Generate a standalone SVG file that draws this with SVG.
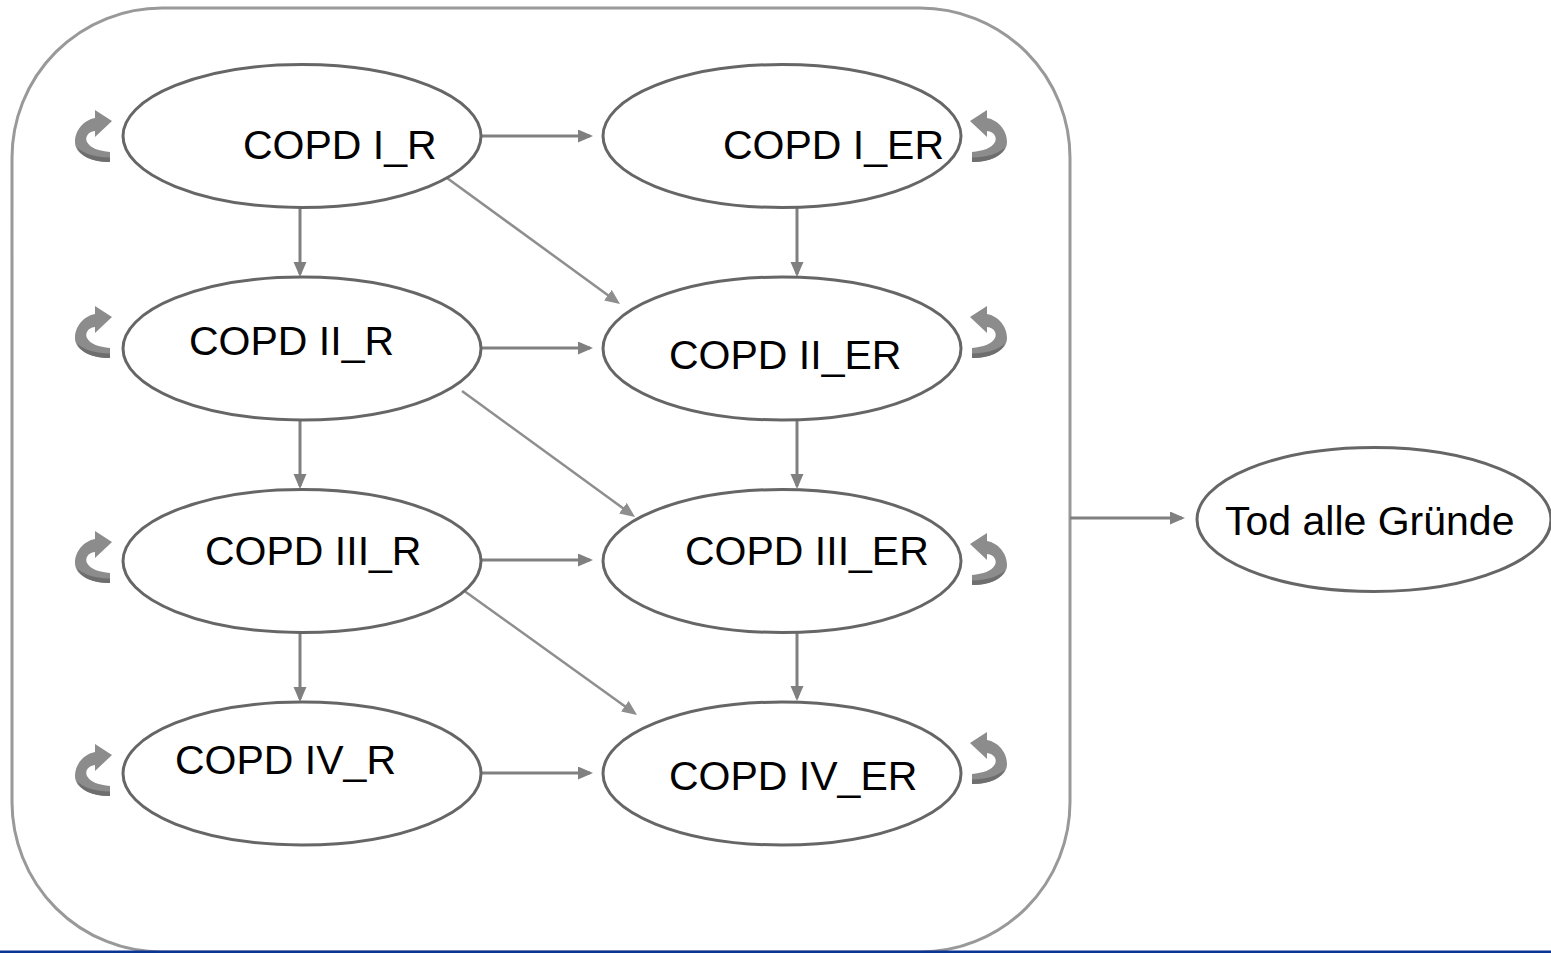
<svg xmlns="http://www.w3.org/2000/svg" width="1551" height="953" viewBox="0 0 1551 953">
<style>
.node ellipse{fill:#fff;stroke:#666;stroke-width:3}
.node text{font-family:"Liberation Sans",Arial,sans-serif;font-size:41px;fill:#000}
.conn line{stroke:#808080;stroke-width:3}
.conn line.d{stroke:#8e8e8e;stroke-width:2.5}
</style>
<defs>
<marker id="ah" markerUnits="userSpaceOnUse" markerWidth="16" markerHeight="14" refX="12" refY="6.5" orient="auto">
<path d="M0,0 L15,6.5 L0,13 Z" fill="#808080"/>
</marker>
<marker id="ahd" markerUnits="userSpaceOnUse" markerWidth="16" markerHeight="14" refX="12" refY="6.5" orient="auto">
<path d="M0,0 L15,6.5 L0,13 Z" fill="#8e8e8e"/>
</marker>
<g id="loopShape">
<path fill="#8c8c8c" d="M20,0 L37,11 L20,27 L20,21 C12,22 10,28 12,32 C15,38 24,41 35,42 L35,52 C15,52 0,44 0,32 C0,20 9,10 20,8 Z"/>
<path fill="#6e6e6e" d="M35,47.5 C18,47.5 6,42 2,37 C5,46 17,52 35,52 Z"/>
</g>
</defs>
<rect id="container" x="12" y="8" width="1058" height="944" rx="150" ry="150" fill="none" stroke="#999" stroke-width="3"/>
<g id="connectors" class="conn">
<line x1="480" y1="136" x2="590" y2="136" marker-end="url(#ah)"/>
<line x1="480" y1="348" x2="590" y2="348" marker-end="url(#ah)"/>
<line x1="480" y1="560" x2="590" y2="560" marker-end="url(#ah)"/>
<line x1="480" y1="773" x2="590" y2="773" marker-end="url(#ah)"/>
<line x1="300" y1="207" x2="300" y2="274" marker-end="url(#ah)"/>
<line x1="300" y1="420" x2="300" y2="486" marker-end="url(#ah)"/>
<line x1="300" y1="633" x2="300" y2="699" marker-end="url(#ah)"/>
<line x1="797" y1="207" x2="797" y2="274" marker-end="url(#ah)"/>
<line x1="797" y1="420" x2="797" y2="486" marker-end="url(#ah)"/>
<line x1="797" y1="633" x2="797" y2="698" marker-end="url(#ah)"/>
<line class="d" x1="447" y1="178" x2="617.6" y2="302.2" marker-end="url(#ahd)"/>
<line class="d" x1="462" y1="391" x2="632.6" y2="515.2" marker-end="url(#ahd)"/>
<line class="d" x1="463" y1="590" x2="634.6" y2="713.2" marker-end="url(#ahd)"/>
<line x1="1070" y1="518" x2="1182" y2="518" marker-end="url(#ah)"/>
</g>
<g id="loops">
<use href="#loopShape" transform="translate(75,110)"/>
<use href="#loopShape" transform="translate(75,306)"/>
<use href="#loopShape" transform="translate(75,531)"/>
<use href="#loopShape" transform="translate(75,744)"/>
<use href="#loopShape" transform="translate(1007,110) scale(-1,1)"/>
<use href="#loopShape" transform="translate(1007,306) scale(-1,1)"/>
<use href="#loopShape" transform="translate(1007,533) scale(-1,1)"/>
<use href="#loopShape" transform="translate(1007,732) scale(-1,1)"/>
</g>
<g id="n_I_R" class="node"><ellipse cx="302" cy="136" rx="179" ry="71.5"/><text x="243" y="159">COPD I_R</text></g>
<g id="n_II_R" class="node"><ellipse cx="302" cy="348.5" rx="179" ry="71.5"/><text x="189" y="355">COPD II_R</text></g>
<g id="n_III_R" class="node"><ellipse cx="302" cy="561" rx="179" ry="71.5"/><text x="205" y="565">COPD III_R</text></g>
<g id="n_IV_R" class="node"><ellipse cx="302" cy="773.5" rx="179" ry="71.5"/><text x="175" y="774">COPD IV_R</text></g>
<g id="n_I_ER" class="node"><ellipse cx="782" cy="136" rx="179" ry="71.5"/><text x="723" y="159">COPD I_ER</text></g>
<g id="n_II_ER" class="node"><ellipse cx="782" cy="348.5" rx="179" ry="71.5"/><text x="669" y="369">COPD II_ER</text></g>
<g id="n_III_ER" class="node"><ellipse cx="782" cy="561" rx="179" ry="71.5"/><text x="685" y="565">COPD III_ER</text></g>
<g id="n_IV_ER" class="node"><ellipse cx="782" cy="773.5" rx="179" ry="71.5"/><text x="669" y="790">COPD IV_ER</text></g>
<g id="n_Tod" class="node"><ellipse cx="1374" cy="519.5" rx="177" ry="72"/><text x="1225" y="535">Tod alle Gründe</text></g>
<rect x="0" y="950.5" width="1551" height="2.5" fill="#0a3595"/>
</svg>
